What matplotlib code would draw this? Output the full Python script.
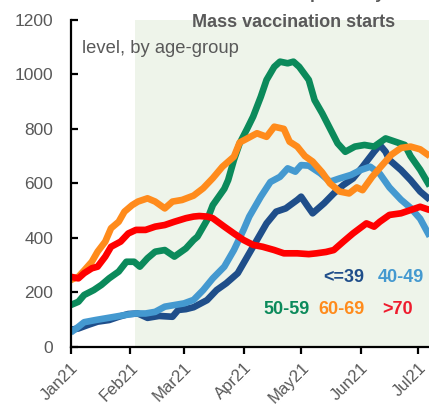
import numpy as np
import pandas as pd
import matplotlib
matplotlib.use("Agg")
import matplotlib.pyplot as plt

plt.rcParams['font.family'] = ['Liberation Sans', 'DejaVu Sans']

START = pd.Timestamp('2021-01-01')

# day offsets from 1 Jan 2021, and values
le39_days = [0, 4, 9, 14, 20, 25, 30, 35, 40, 46, 53, 56, 60, 64, 71, 76, 81, 87, 92, 97, 102, 107, 112, 118, 120, 123, 126, 132, 137, 142, 147, 152, 158, 161, 164, 166, 172, 177, 182, 187]
le39_vals = [62, 67, 80, 92, 98, 110, 120, 122, 106, 113, 110, 135, 138, 145, 171, 208, 233, 270, 331, 392, 453, 496, 508, 539, 551, 520, 490, 527, 563, 594, 618, 661, 716, 741, 716, 686, 649, 612, 570, 540]

g4049_days = [0, 4, 7, 13, 18, 23, 28, 34, 39, 44, 49, 54, 59, 64, 69, 74, 80, 85, 90, 93, 99, 104, 109, 113, 117, 120, 124, 130, 135, 140, 146, 151, 156, 161, 166, 172, 177, 182, 187]
g4049_vals = [52, 73, 90, 98, 104, 110, 116, 122, 122, 128, 147, 153, 159, 172, 208, 251, 294, 355, 429, 478, 551, 605, 624, 655, 643, 667, 665, 637, 606, 618, 631, 649, 661, 635, 585, 540, 510, 470, 405]

g5059_days = [0, 4, 7, 12, 16, 20, 25, 29, 33, 36, 40, 44, 49, 54, 60, 64, 66, 71, 74, 77, 80, 82, 85, 88, 92, 95, 99, 102, 106, 109, 113, 116, 119, 124, 127, 131, 135, 139, 143, 148, 153, 158, 164, 169, 174, 177, 182, 187]
g5059_vals = [153, 165, 190, 208, 227, 251, 276, 312, 312, 294, 325, 349, 355, 331, 361, 392, 404, 465, 520, 550, 580, 612, 686, 747, 802, 845, 918, 980, 1028, 1047, 1041, 1047, 1028, 980, 906, 857, 802, 747, 716, 735, 741, 735, 765, 753, 741, 700, 650, 590]

g6069_days = [0, 4, 7, 11, 14, 18, 21, 25, 28, 32, 35, 40, 44, 49, 53, 58, 64, 69, 74, 79, 85, 88, 92, 97, 102, 106, 111, 114, 118, 122, 126, 131, 135, 140, 145, 149, 152, 157, 162, 167, 172, 177, 182, 187]
g6069_vals = [245, 257, 280, 312, 349, 386, 435, 459, 496, 520, 533, 545, 533, 508, 533, 539, 555, 582, 619, 661, 698, 750, 765, 784, 771, 808, 800, 753, 735, 700, 680, 640, 600, 570, 563, 585, 575, 624, 665, 705, 730, 735, 725, 700]

gt70_days = [0, 4, 7, 11, 14, 18, 21, 26, 30, 34, 39, 44, 49, 54, 60, 64, 67, 71, 74, 80, 85, 90, 95, 100, 106, 111, 118, 124, 128, 133, 137, 142, 147, 154, 158, 161, 166, 172, 177, 182, 187]
gt70_vals = [257, 251, 270, 288, 294, 331, 367, 386, 416, 429, 429, 441, 447, 459, 472, 478, 480, 478, 472, 441, 416, 392, 374, 367, 355, 343, 343, 340, 343, 348, 355, 386, 416, 453, 441, 459, 484, 490, 502, 514, 502]

labels = ['<=39', '40-49', '50-59', '60-69', '>70']
colors = ['#1F4E8A', '#4499D0', '#0B8A5B', '#FF8B1C', '#FF0000']
text_colors = ['#1F4E8A', '#4499D0', '#0B8A5B', '#FF8B1C', '#EE1C2E']
series = [(le39_days, le39_vals), (g4049_days, g4049_vals), (g5059_days, g5059_vals),
          (g6069_days, g6069_vals), (gt70_days, gt70_vals)]

yticks = [0, 200, 400, 600, 800, 1000, 1200]
xtick_dates = ['2021-01-01', '2021-02-01', '2021-03-01', '2021-04-01', '2021-05-01', '2021-06-01', '2021-07-01']
xtick_labels = ['Jan21', 'Feb21', 'Mar21', 'Apr21', 'May21', 'Jun21', 'Jul21']
vacc_start = '2021-02-03 12:00'

W, H = 429, 404
fig = plt.figure(figsize=(W / 100, H / 100), dpi=100)
ax = fig.add_axes([70.7 / W, 1 - 346.7 / H, (W - 70.7) / W, (346.7 - 20) / H])

def to_dates(d):
    return START + pd.to_timedelta(np.array(d, dtype=float), unit='D')

ax.axvspan(pd.Timestamp(vacc_start), START + pd.Timedelta(days=200), ymin=0, ymax=1,
           color='#EEF4EA', zorder=0, lw=0)

for (d, v), c in zip(series, colors):
    ax.plot(to_dates(d), v, color=c, lw=4.8, solid_capstyle='butt', zorder=2)

ax.set_ylim(0, 1200)
ax.set_xlim(START, START + pd.Timedelta(days=186.6))
ax.set_yticks(yticks)
ax.set_xticks(pd.to_datetime(xtick_dates))
ax.set_xticklabels(xtick_labels, rotation=45, ha='right', va='top', rotation_mode='anchor')

for s in ['top', 'right']:
    ax.spines[s].set_visible(False)
for s in ['left', 'bottom']:
    ax.spines[s].set_linewidth(1.6)
    ax.spines[s].set_color('black')

ax.tick_params(axis='y', direction='in', length=5, width=1.6, pad=12.5, labelsize=12.5, labelcolor='#595959')
ax.tick_params(axis='x', direction='out', length=5, width=1.6, pad=4.5, labelsize=12.0, labelcolor='#595959')
ax.set_facecolor('none')

fig.text(192 / W, 1 - 27 / H, 'Mass vaccination starts', fontsize=13.0, fontweight='bold',
         color='#595959', ha='left', va='baseline')
fig.text(82 / W, 1 - 53 / H, 'level, by age-group', fontsize=13.2, color='#595959',
         ha='left', va='baseline')
fig.text(385 / W, 1 + 1 / H, 'positivity', fontsize=12.3, fontweight='bold',
         color='#595959', ha='right', va='baseline')

legend_pos = [(323, 282), (378, 282), (263, 314), (318, 314), (382, 314)]
for lab, tc, (lx, ly) in zip(labels, text_colors, legend_pos):
    fig.text(lx / W, 1 - ly / H, lab, fontsize=13.0, fontweight='bold', color=tc,
             ha='left', va='baseline')

fig.savefig('out.png', dpi=100)
